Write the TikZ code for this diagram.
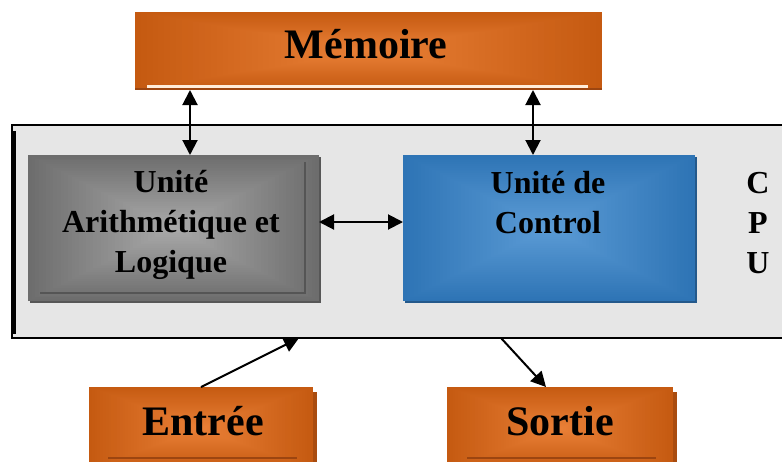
\documentclass[tikz,border=0pt]{standalone}
\usepackage{fontspec}
\setmainfont{Liberation Serif}
\usetikzlibrary{calc,arrows.meta}

\definecolor{orEdge}{HTML}{C55A11}
\definecolor{orMid}{HTML}{E97F36}
\definecolor{orDark}{HTML}{9C4510}
\definecolor{orShadow}{HTML}{A94C0F}
\definecolor{grEdge}{HTML}{6D6D6D}
\definecolor{grMid}{HTML}{A9A9A9}
\definecolor{grLine}{HTML}{555555}
\definecolor{blEdge}{HTML}{2E74B5}
\definecolor{blMid}{HTML}{5B9BD5}
\definecolor{blDark}{HTML}{24598B}
\definecolor{cpuFill}{HTML}{E6E6E6}

\tikzset{
  % rectangular "from centre" gradient fill
  rgrad/.style 2 args={path picture={
    \foreach \i in {0,...,39}{
      \pgfmathsetmacro\gt{1-\i/40}
      \pgfmathsetmacro\gc{100*\i/39}
      \fill[#2!\gc!#1]
        ($(path picture bounding box.center)!\gt!(path picture bounding box.south west)$)
        rectangle
        ($(path picture bounding box.center)!\gt!(path picture bounding box.north east)$);
    }}},
  boxbase/.style={rectangle, inner sep=0pt, outer sep=0pt},
  orangebox/.style={boxbase, rgrad={orEdge}{orMid}},
  graybox/.style={boxbase, rgrad={grEdge}{grMid}},
  bluebox/.style={boxbase, rgrad={blEdge}{blMid}},
  biglbl/.style={inner sep=0pt, font=\fontsize{42}{50}\selectfont\bfseries},
  smalllbl/.style={inner sep=0pt, align=center, font=\fontsize{32}{40}\selectfont\bfseries},
  link/.style={line width=2pt, black},
  tipA/.style={-{Triangle[width=15pt,length=15pt]}},
  tipAA/.style={{Triangle[width=15pt,length=15pt]}-{Triangle[width=15pt,length=15pt]}},
}

\begin{document}
\begin{tikzpicture}[x=1pt,y=-1pt]
\useasboundingbox (0,0) rectangle (782,461);

% CPU frame
\node[boxbase, fill=cpuFill, draw=black, line width=1.4pt,
      minimum width=788pt, minimum height=213pt] (cpu) at (406,231.5) {};
\draw[line width=2.6pt] ($(cpu.north west)+(2.6,6)$) -- ($(cpu.south west)+(2.6,-4)$);

% memory
\node[orangebox, minimum width=467pt, minimum height=78pt] (mem) at (368.5,51) {};
\fill[orDark] ($(mem.south west)+(0,-2.5)$) rectangle (mem.south east);
\draw[line width=2.2pt, white!85!orange] ($(mem.south west)+(12,-3.5)$) -- ($(mem.south east)+(-14,-3.5)$);
\node[biglbl, anchor=base] (memtxt) at (366,58) {Mémoire};

% arithmetic and logic unit
\fill[grEdge!80!black] (30,157) rectangle (321,303);
\node[graybox, minimum width=291pt, minimum height=146pt] (alu) at (173.5,228) {};
\draw[line width=1.6pt, grLine] (40,293) -- (305,293) -- (305,162);
\node[smalllbl, anchor=base] (alutxt) at (171,272) {Unité\\Arithmétique et\\Logique};

% control unit
\fill[blDark] (405,157) rectangle (697,303);
\node[bluebox, minimum width=292pt, minimum height=146pt] (cu) at (549,228) {};
\node[smalllbl, anchor=base] (cutxt) at (548,233) {Unité de\\Control};

% CPU letters
\node[smalllbl, anchor=base] (cpulbl) at (758,273) {C\\P\\U};

% input / output
\fill[orShadow] (93,392) rectangle (317,470);
\node[orangebox, minimum width=224pt, minimum height=83pt] (entree) at (201,428.5) {};
\draw[line width=2pt, orDark] (108,458) -- (297,458);
\node[biglbl, anchor=base] (entreetxt) at (203,435) {Entrée};

\fill[orShadow] (451,392) rectangle (677,470);
\node[orangebox, minimum width=226pt, minimum height=83pt] (sortie) at (560,428.5) {};
\draw[line width=2pt, orDark] (467,458) -- (656,458);
\node[biglbl, anchor=base] (sortietxt) at (560,435) {Sortie};

% connectors
\coordinate (xl) at (190,0);
\coordinate (xr) at (533,0);
\coordinate (yh) at (0,222);
\coordinate (inpt) at (299,338);
\coordinate (outpt) at (501,338);
\coordinate (xo) at (546,0);

\draw[link, tipAA] (mem.south -| xl) -- (alu.north -| xl);
\draw[link, tipAA] (mem.south -| xr) -- (cu.north -| xr);
\draw[link, tipAA] (alu.east |- yh) -- (cu.west |- yh);
\draw[link, tipA] (entree.north) -- (inpt);
\draw[link, tipA] (outpt) -- (sortie.north -| xo);
\end{tikzpicture}
\end{document}
